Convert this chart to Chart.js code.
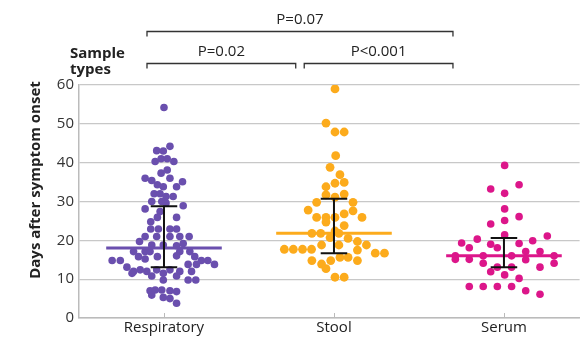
<!DOCTYPE html>
<html>
<head>
<meta charset="utf-8">
<script src="https://cdn.jsdelivr.net/npm/chart.js@4"></script>
<style>
  html, body { margin: 0; padding: 0; background: #fff; }
  #wrap { width: 584px; height: 340px; }
</style>
</head>
<body>
<div id="wrap"><canvas id="daysChart"></canvas></div>
<script>
const C_RESP = '#6a4fae';
const C_STOOL = '#fcab1c';
const C_SERUM = '#dc168a';
const FONT = "'Open Sans', sans-serif";

const categories = ['Respiratory', 'Stool', 'Serum'];

// horizontal offset of each dot inside its column, and days after onset
const respJitter = [0, 0.035, -0.043, -0.004, -0.052, -0.017, 0.019, 0.058, 0.019, -0.017,
  -0.111, -0.072, 0.035, 0.109, -0.039, -0.004, 0.074, -0.058, -0.023, 0.012,
  0.054, -0.072, -0.013, 0.012, -0.111, 0.113, -0.023, -0.039, -0.078, 0.074,
  -0.078, -0.033, 0.035, 0.074, -0.111, -0.144, -0.043, 0.035, 0.093, 0.148,
  -0.072, -0.004, 0.074, 0.113, -0.179, -0.111, -0.082, 0.093, 0.152, -0.305,
  -0.257, -0.150, -0.111, -0.039, 0.074, 0.181, 0.142, 0.220, 0.258, 0.297,
  -0.218, -0.179, -0.140, -0.101, -0.043, 0.035, 0.093, 0.162, 0.191, -0.188,
  -0.072, -0.004, 0.074, -0.004, 0.142, 0.187, -0.082, -0.052, -0.013, 0.035,
  0.074, -0.072, -0.004, 0.035, 0.074];
const respDays = [54.2, 44.2, 43.1, 43.0, 40.3, 41.0, 41.0, 40.3, 38.1, 37.3,
  36.0, 35.4, 36.0, 35.1, 34.3, 33.8, 33.8, 32.0, 32.0, 31.3,
  31.3, 30.0, 30.0, 29.6, 28.1, 28.9, 27.4, 25.9, 24.8, 25.9,
  22.9, 22.9, 22.9, 22.9, 21.0, 19.7, 21.0, 21.0, 21.0, 21.0,
  18.8, 18.8, 18.6, 19.2, 17.1, 17.1, 17.1, 17.1, 17.1, 14.8,
  14.8, 15.8, 15.2, 15.8, 16.0, 15.8, 13.8, 14.8, 14.8, 13.8,
  13.1, 12.0, 12.4, 12.0, 12.4, 12.4, 12.0, 12.0, 13.8, 11.5,
  10.8, 11.5, 10.8, 9.8, 9.8, 9.8, 7.0, 7.2, 7.2, 7.0,
  6.8, 5.9, 5.3, 5.0, 3.8];

const stoolJitter = [0.006, -0.047, 0.006, 0.060, 0.010, -0.023, 0.035, 0.006, 0.060, -0.047,
  -0.047, 0.060, 0.006, -0.102, 0.112, -0.152, 0.112, -0.102, -0.047, 0.006,
  0.060, 0.165, -0.047, 0.060, -0.130, -0.078, -0.023, 0.029, 0.006, 0.083,
  0.138, 0.191, -0.073, 0.029, -0.292, -0.239, -0.185, -0.132, 0.138, 0.243,
  0.297, -0.019, 0.035, 0.083, 0.138, -0.130, -0.073, -0.047, 0.006, 0.060];
const stoolDays = [59.0, 50.2, 47.9, 47.9, 41.8, 38.8, 36.9, 34.7, 34.9, 33.8,
  31.7, 31.9, 31.1, 29.8, 29.8, 27.8, 27.6, 25.9, 25.9, 25.9,
  26.8, 25.9, 24.7, 23.8, 21.8, 21.8, 20.7, 21.8, 22.4, 20.5,
  19.7, 18.8, 18.8, 18.8, 17.7, 17.7, 17.7, 17.7, 17.5, 16.7,
  16.7, 14.8, 15.6, 15.6, 14.8, 14.8, 13.9, 12.7, 10.5, 10.5];

const serumJitter = [0.004, -0.078, 0.089, 0.004, 0.004, -0.078, 0.004, 0.089, 0.004, -0.157,
  -0.249, -0.204, -0.078, -0.039, 0.089, 0.169, 0.255, -0.286, -0.286, -0.204,
  -0.122, 0.045, 0.128, 0.128, 0.212, 0.295, 0.295, -0.122, -0.078, -0.039,
  0.045, 0.004, 0.212, 0.089, -0.204, -0.122, -0.039, 0.045, 0.128, 0.212];
const serumDays = [39.3, 33.2, 34.3, 32.1, 28.1, 24.2, 25.1, 26.1, 21.4, 20.3,
  19.3, 18.1, 19.0, 18.1, 19.2, 19.9, 21.1, 16.0, 15.1, 15.1,
  16.0, 16.0, 17.1, 15.0, 17.1, 16.0, 14.1, 14.1, 11.9, 13.1,
  13.1, 11.1, 13.1, 10.2, 8.1, 8.1, 8.1, 8.1, 7.0, 6.1];

const medians = [18.0, 21.8, 16.0];
const q1 = [13.1, 16.7, 13.1];
const q3 = [28.8, 30.7, 20.6];

// comparison brackets: [from, to, label, level]
const brackets = [
  [-0.1, 1.7, 'P=0.07', 0],
  [-0.1, 0.775, 'P=0.02', 1],
  [0.825, 1.7, 'P<0.001', 1]
];

const colors = [C_RESP, C_STOOL, C_SERUM];
const dotSize = [3.8, 4.4, 3.8];
const jitters = [respJitter, stoolJitter, serumJitter];
const days = [respDays, stoolDays, serumDays];

let datasets = [];
categories.forEach((c, i) => {
  datasets.push({
    label: c,
    data: days[i].map((d, k) => ({ x: i + jitters[i][k], y: d })),
    backgroundColor: colors[i],
    borderWidth: 0,
    pointRadius: dotSize[i],
    order: 3
  });
  // median line
  datasets.push({
    data: [{ x: i - 0.34, y: medians[i] }, { x: i + 0.34, y: medians[i] }],
    showLine: true, borderColor: colors[i], borderWidth: 3,
    pointRadius: 0, order: 2
  });
  // interquartile range whisker with caps
  const segs = [
    [{ x: i, y: q1[i] }, { x: i, y: q3[i] }],
    [{ x: i - 0.078, y: q1[i] }, { x: i + 0.078, y: q1[i] }],
    [{ x: i - 0.078, y: q3[i] }, { x: i + 0.078, y: q3[i] }]
  ];
  segs.forEach(s => datasets.push({
    data: s, showLine: true, borderColor: '#111', borderWidth: 2,
    pointRadius: 0, order: 1
  }));
});

const extras = {
  id: 'extras',
  afterDraw(chart) {
    const ctx = chart.ctx;
    const xs = chart.scales.x;
    const area = chart.chartArea;
    ctx.save();
    // small category ticks on the baseline
    ctx.strokeStyle = '#bbb';
    ctx.lineWidth = 1;
    categories.forEach((c, i) => {
      const px = Math.round(xs.getPixelForValue(i)) + 0.5;
      ctx.beginPath();
      ctx.moveTo(px, area.bottom);
      ctx.lineTo(px, area.bottom - 5);
      ctx.stroke();
    });
    // brackets and P values
    ctx.strokeStyle = '#333';
    ctx.lineWidth = 1.3;
    ctx.fillStyle = '#222';
    ctx.font = '15px ' + FONT;
    ctx.textAlign = 'center';
    brackets.forEach(b => {
      const y = b[3] === 0 ? 31.5 : 63.5;
      const x0 = xs.getPixelForValue(b[0]);
      const x1 = xs.getPixelForValue(b[1]);
      ctx.beginPath();
      ctx.moveTo(x0, y + 5);
      ctx.lineTo(x0, y);
      ctx.lineTo(x1, y);
      ctx.lineTo(x1, y + 5);
      ctx.stroke();
      ctx.fillText(b[2], (x0 + x1) / 2, y - 8);
    });
    // legend heading
    ctx.textAlign = 'left';
    ctx.font = 'bold 15px ' + FONT;
    ctx.fillText('Sample', 70, 58);
    ctx.fillText('types', 70, 74);
    // y title
    ctx.translate(40, 180);
    ctx.rotate(-Math.PI / 2);
    ctx.textAlign = 'center';
    ctx.font = 'bold 15px ' + FONT;
    ctx.fillText('Days after symptom onset', 0, 0);
    ctx.restore();
  }
};

new Chart(document.getElementById('daysChart'), {
  type: 'scatter',
  data: { datasets: datasets },
  plugins: [extras],
  options: {
    animation: false,
    responsive: true,
    maintainAspectRatio: false,
    layout: { padding: { top: 85, right: 0, left: 0, bottom: 0 } },
    plugins: { legend: { display: false }, tooltip: { enabled: false } },
    scales: {
      x: {
        type: 'linear',
        min: -0.5,
        max: 2.445,
        afterFit: s => { s.height = 22; },
        afterBuildTicks: s => { s.ticks = categories.map((c, i) => ({ value: i })); },
        ticks: {
          callback: v => categories[v],
          color: '#222',
          font: { family: FONT, size: 15 },
          padding: 1,
          autoSkip: false,
          maxRotation: 0
        },
        grid: { display: false, drawTicks: false, tickLength: 0 },
        border: { display: true, color: '#bbb', width: 1.5 }
      },
      y: {
        min: 0,
        max: 60,
        afterFit: s => { s.width = 79; },
        ticks: {
          stepSize: 10,
          color: '#333',
          font: { family: FONT, size: 15 },
          padding: 5
        },
        grid: { color: '#c8c8c8', lineWidth: 1.3, drawTicks: false },
        border: { display: true, color: '#bbb', width: 1.5 }
      }
    }
  }
});
</script>
</body>
</html>
